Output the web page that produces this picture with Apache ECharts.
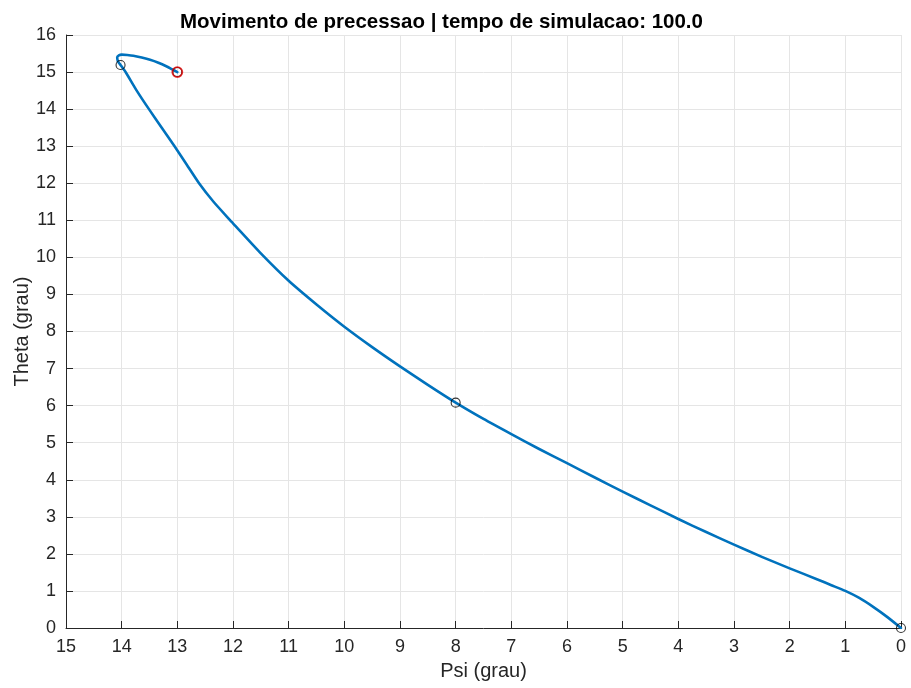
<!DOCTYPE html>
<html>
<head>
<meta charset="utf-8">
<script src="https://cdn.jsdelivr.net/npm/echarts@6/dist/echarts.min.js"></script>
<style>
  html, body { margin: 0; padding: 0; background: #fff; }
  #chart { width: 911px; height: 688px; }
</style>
</head>
<body>
<div id="chart"></div>
<script>
// trajetoria (psi, theta) em graus
var psiPath = [13.0, 13.1, 13.19, 13.34, 13.49, 13.64, 13.79, 13.9, 14.0, 14.05, 14.08, 14.07, 14.04, 14.02,
    13.93, 13.73, 13.51, 13.28, 13.05, 12.83, 12.61, 12.35, 12.05, 12.0, 11.5, 11.0, 10.5, 10.0,
    9.5, 9.0, 8.5, 8.0, 7.5, 7.0, 6.5, 6.0, 5.5, 5.0, 4.5, 4.0, 3.5, 3.0, 2.5, 2.0, 1.5, 1.25, 1.0, 0.75, 0.5, 0.25, 0.0];
var thetaPath = [15.0, 15.08, 15.15, 15.25, 15.33, 15.39, 15.44, 15.46, 15.47, 15.45, 15.4, 15.3, 15.23, 15.19,
    15.0, 14.5, 14.0, 13.5, 13.0, 12.5, 12.0, 11.5, 11.0, 10.92, 10.11, 9.37, 8.73, 8.13,
    7.58, 7.06, 6.56, 6.08, 5.64, 5.23, 4.83, 4.45, 4.06, 3.68, 3.31, 2.94, 2.59, 2.25, 1.92, 1.61, 1.31, 1.155, 1.0, 0.81, 0.57, 0.3, 0.0];

// marcadores
var markPsi = [0.0, 8.0, 14.02, 13.0];
var markTheta = [0.0, 6.08, 15.19, 15.0];
var startPsi = [13.0];
var startTheta = [15.0];

var xTicks = [0, 1, 2, 3, 4, 5, 6, 7, 8, 9, 10, 11, 12, 13, 14, 15];
var yTicks = [0, 1, 2, 3, 4, 5, 6, 7, 8, 9, 10, 11, 12, 13, 14, 15, 16];

function pairs(a, b) {
    return a.map(function (v, i) { return [v, b[i]]; });
}

var axisTxt = '#262626';
var gridCol = '#e5e5e5';
var font = 'Liberation Sans';

echarts.init(document.getElementById('chart')).setOption({
    animation: false,
    title: {
        text: 'Movimento de precessao | tempo de simulacao: 100.0',
        left: 175,
        top: 7,
        textStyle: {
            fontFamily: font,
            fontWeight: 'bold',
            fontSize: 20.5,
            color: '#000'
        }
    },
    grid: {
        left: 66,
        right: 10,
        top: 35,
        bottom: 60,
        containLabel: false,
        outerBoundsMode: 'none'
    },
    xAxis: {
        type: 'value',
        inverse: true,
        min: xTicks[0],
        max: xTicks[xTicks.length - 1],
        interval: 1,
        name: 'Psi (grau)',
        nameLocation: 'middle',
        nameGap: 33,
        nameTextStyle: { fontFamily: font, fontSize: 20, color: axisTxt },
        axisLine: { onZero: false, lineStyle: { color: axisTxt, width: 1 } },
        axisTick: { inside: true, length: 7, lineStyle: { color: axisTxt } },
        axisLabel: { fontFamily: font, fontSize: 18, color: axisTxt, margin: 10 },
        splitLine: { show: true, lineStyle: { color: gridCol, width: 1 } }
    },
    yAxis: {
        type: 'value',
        min: yTicks[0],
        max: yTicks[yTicks.length - 1],
        interval: 1,
        name: 'Theta (grau)',
        nameLocation: 'middle',
        nameGap: 34,
        nameMoveOverlap: false,
        nameTextStyle: { fontFamily: font, fontSize: 20, color: axisTxt },
        axisLine: { show: true, onZero: false, lineStyle: { color: axisTxt, width: 1 } },
        axisTick: { show: true, inside: true, length: 7, lineStyle: { color: axisTxt } },
        axisLabel: { fontFamily: font, fontSize: 18, color: axisTxt, margin: 10 },
        splitLine: { show: true, lineStyle: { color: gridCol, width: 1 } }
    },
    series: [
        {
            name: 'trajetoria',
            type: 'line',
            data: pairs(psiPath, thetaPath),
            smooth: 0.2,
            showSymbol: false,
            lineStyle: { color: '#0072BD', width: 2.6, join: 'round', cap: 'round' },
            z: 2
        },
        {
            name: 'marcas',
            type: 'scatter',
            data: pairs(markPsi, markTheta),
            symbol: 'circle',
            symbolSize: 9,
            itemStyle: { color: 'transparent', borderColor: '#000', borderWidth: 1.1 },
            z: 3
        },
        {
            name: 'inicio',
            type: 'scatter',
            data: pairs(startPsi, startTheta),
            symbol: 'circle',
            symbolSize: 10,
            itemStyle: { color: 'transparent', borderColor: '#e00000', borderWidth: 1.8 },
            z: 4
        }
    ]
});
</script>
</body>
</html>
